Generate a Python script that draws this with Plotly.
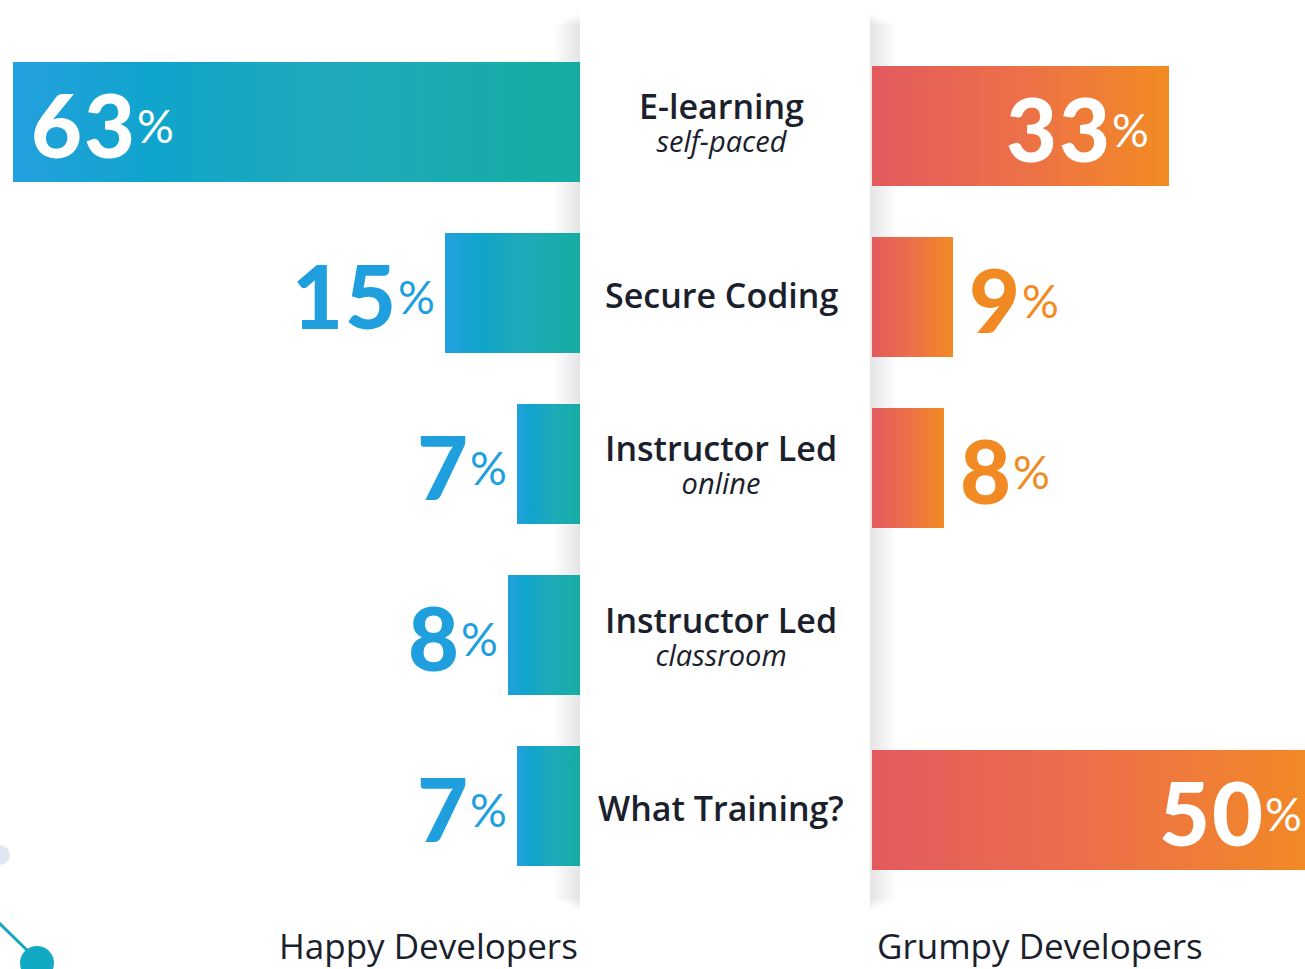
import plotly.graph_objects as go

# ---------------- data ----------------
categories = ["E-learning", "Secure Coding", "Instructor Led", "Instructor Led", "What Training?"]
subtitles = ["self-paced", "", "online", "classroom", ""]
happy = [63, 15, 7, 8, 7]
grumpy = [33, 9, 8, None, 50]
group_labels = ["Happy Developers", "Grumpy Developers"]

# ---------------- layout constants ----------------
W, H = 1305, 969
PX_PER_PCT = 9.0
LEFT_EDGE = 580      # px, zero line of left panel
RIGHT_EDGE = 872     # px, zero line of right panel
PANEL_R = 870
ROW_PITCH = 171
LEFT_ROW0 = 122
RIGHT_ROW0 = 126
HALF = 60 / ROW_PITCH
INSIDE_THRESHOLD = 30

TEXT = "#1a212c"
BLUE = "#1f9fde"
ORANGE = "#f28a24"
NUM_FONT = "Lato"
LBL_FONT = "Open Sans"

# gradients are laid out left->right on screen
left_scale = [[0, "#23a0de"], [0.25, "#10a5cc"], [0.55, "#1ea9bb"], [1, "#15ada2"]]
right_scale = [[0, "#e35a5e"], [0.5, "#ec7048"], [1, "#f28b23"]]

fig = go.Figure()


def bar_trace(value, row, xa, ya, scale):
    xs = [0, value, value, 0, 0]
    ys = [row - HALF, row - HALF, row + HALF, row + HALF, row - HALF]
    return go.Scatter(
        x=xs, y=ys, xaxis=xa, yaxis=ya, mode="lines", fill="toself",
        line=dict(width=0), hoverinfo="skip", showlegend=False,
        fillgradient=dict(type="horizontal", colorscale=scale),
    )


for i, v in enumerate(happy):
    if v is not None:
        fig.add_trace(bar_trace(v, i, "x", "y", left_scale))
for i, v in enumerate(grumpy):
    if v is not None:
        fig.add_trace(bar_trace(v, i, "x2", "y2", right_scale))


def pct_text(v):
    return (f'<span style="font-size:88px;font-weight:900;letter-spacing:2px">{v}</span>'
            f'<span style="font-size:46px;font-weight:400;baseline-shift:15px">%</span>')


annotations = []
for i, v in enumerate(happy):
    if v is None:
        continue
    inside = v > INSIDE_THRESHOLD
    annotations.append(dict(
        x=(v - 16 / PX_PER_PCT) if inside else (v + 8 / PX_PER_PCT), y=i, xref="x", yref="y",
        text=pct_text(v), showarrow=False, xanchor="left" if inside else "right", yanchor="middle",
        font=dict(family=NUM_FONT, size=88, color="white" if inside else BLUE), yshift=-2,
    ))
for i, v in enumerate(grumpy):
    if v is None:
        continue
    inside = v > INSIDE_THRESHOLD
    annotations.append(dict(
        x=(v - 18 / PX_PER_PCT) if inside else (v + 14 / PX_PER_PCT), y=i, xref="x2", yref="y2",
        text=pct_text(v), showarrow=False, xanchor="right" if inside else "left", yanchor="middle",
        font=dict(family=NUM_FONT, size=88, color="white" if inside else ORANGE), yshift=-2,
    ))

# category labels in centre column
cx = 721 / W
for i, (cat, sub) in enumerate(zip(categories, subtitles)):
    yc = 1 - (LEFT_ROW0 + 2 + ROW_PITCH * i) / H
    main = f'<span style="font-size:34px;font-weight:600">{cat}</span>'
    if sub:
        text = main + f'<br><span style="font-size:29px"><i>{sub}</i></span>'
    else:
        text = main
    annotations.append(dict(x=cx, y=yc, xref="paper", yref="paper", text=text, showarrow=False,
                            xanchor="center", yanchor="middle", yshift=2 if sub else 0,
                            font=dict(family=LBL_FONT, size=25, color=TEXT)))

annotations.append(dict(x=428 / W, y=0, xref="paper", yref="paper", text=group_labels[0],
                        showarrow=False, xanchor="center", yanchor="bottom", yshift=-2,
                        font=dict(family=LBL_FONT, size=35, color=TEXT)))
annotations.append(dict(x=1040 / W, y=0, xref="paper", yref="paper", text=group_labels[1],
                        showarrow=False, xanchor="center", yanchor="bottom", yshift=-2,
                        font=dict(family=LBL_FONT, size=35, color=TEXT)))


def px_x(p):
    return p / W


def px_y(p):
    return 1 - p / H


shapes = []
# soft shadow of the centre panel (beneath the bars)
for k in range(1, 14):
    shapes.append(dict(type="rect", xref="paper", yref="paper", layer="below",
                       x0=px_x(LEFT_EDGE - 2 * k), x1=px_x(PANEL_R + 2 * k),
                       y0=px_y(912 - 1.0 * k), y1=px_y(12 + 1.0 * k),
                       line=dict(width=0), fillcolor="rgba(0,0,0,0.008)"))
shapes.append(dict(type="rect", xref="paper", yref="paper", layer="below",
                   x0=px_x(LEFT_EDGE), x1=px_x(PANEL_R), y0=px_y(918), y1=px_y(6),
                   line=dict(width=0), fillcolor="white"))
# decorative dots bottom-left
shapes.append(dict(type="circle", xref="paper", yref="paper", x0=px_x(-10), x1=px_x(10),
                   y0=px_y(865), y1=px_y(845), line=dict(width=0), fillcolor="#dfe7f0"))
shapes.append(dict(type="line", xref="paper", yref="paper", x0=px_x(-2), y0=px_y(922),
                   x1=px_x(32), y1=px_y(955), line=dict(width=3, color="#14a7c2")))
shapes.append(dict(type="circle", xref="paper", yref="paper", x0=px_x(20), x1=px_x(54),
                   y0=px_y(980), y1=px_y(946), line=dict(width=0), fillcolor="#12a9c5"))

fig.update_layout(
    width=W, height=H, autosize=False,
    margin=dict(l=0, r=0, t=0, b=0),
    paper_bgcolor="white", plot_bgcolor="rgba(0,0,0,0)",
    showlegend=False,
    xaxis=dict(domain=[0, LEFT_EDGE / W], range=[LEFT_EDGE / PX_PER_PCT, 0], visible=False, fixedrange=True),
    xaxis2=dict(domain=[RIGHT_EDGE / W, 1], range=[0, (W - RIGHT_EDGE) / PX_PER_PCT], visible=False,
                anchor="y2", fixedrange=True),
    yaxis=dict(domain=[0, 1], range=[(H - LEFT_ROW0) / ROW_PITCH, -LEFT_ROW0 / ROW_PITCH], visible=False,
               fixedrange=True),
    yaxis2=dict(domain=[0, 1], range=[(H - RIGHT_ROW0) / ROW_PITCH, -RIGHT_ROW0 / ROW_PITCH], visible=False,
                anchor="x2", fixedrange=True),
    annotations=annotations,
    shapes=shapes,
)

fig.write_html("out.html", config={"displayModeBar": False},
               post_script="document.body.style.margin='0';document.body.style.overflow='hidden';")
